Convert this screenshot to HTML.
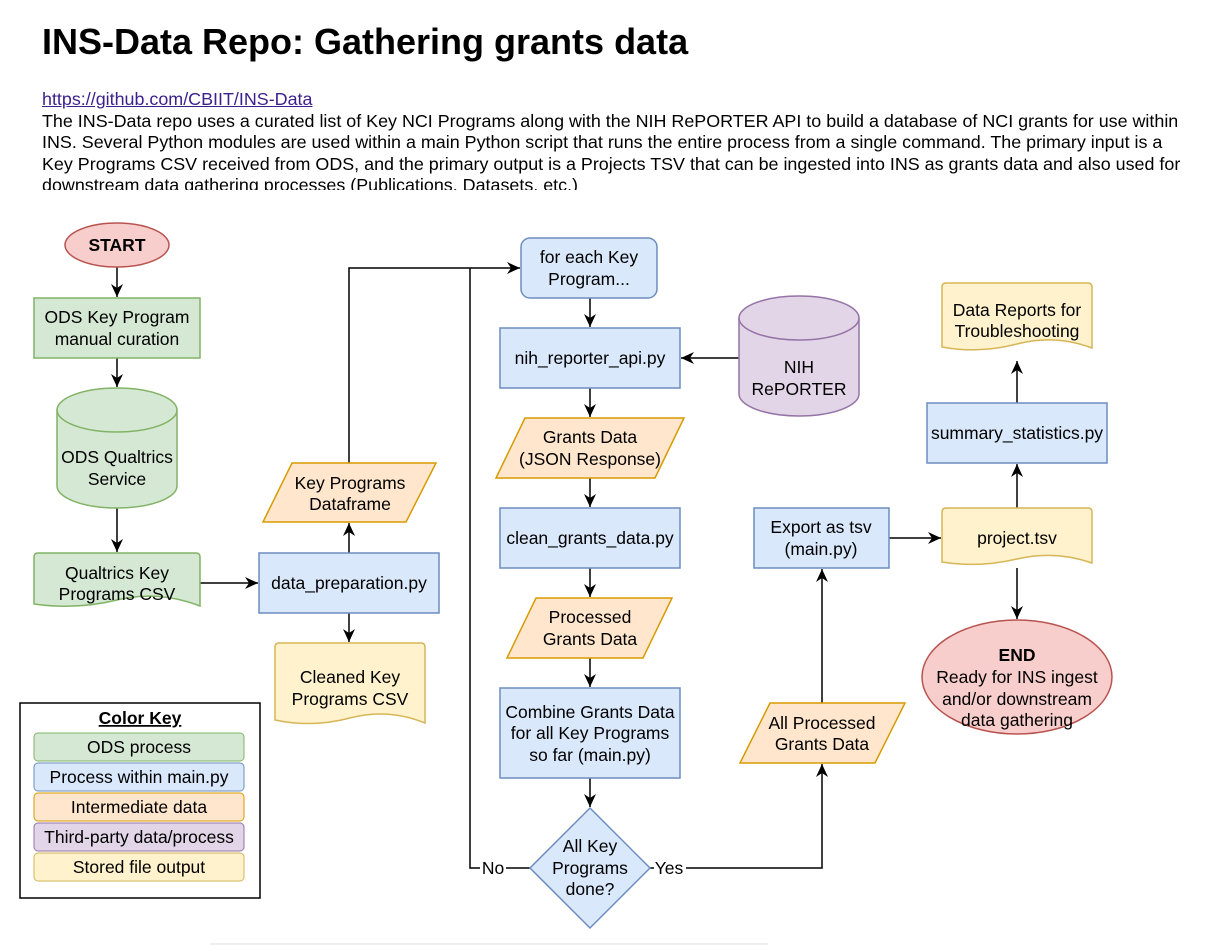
<!DOCTYPE html>
<html><head><meta charset="utf-8"><style>
body{margin:0;background:#fff;width:1222px;height:945px;overflow:hidden;font-family:"Liberation Sans",Arial,sans-serif}
h1{position:absolute;left:42px;top:21px;margin:0;font-size:36px;font-weight:bold}
#desc{position:absolute;left:42px;top:89px;width:1152px;height:101px;overflow:hidden;font-size:17.9px;line-height:21.6px;color:#000}
#desc a{color:#3b1f8c;text-decoration:underline}
svg{position:absolute;left:0;top:0}
text{font-family:"Liberation Sans",Arial,sans-serif;font-size:17.5px;text-anchor:middle}
</style></head><body>
<h1>INS-Data Repo: Gathering grants data</h1>
<div id="desc"><a>https://github.com/CBIIT/INS-Data</a><br>The INS-Data repo uses a curated list of Key NCI Programs along with the NIH RePORTER API to build a database of NCI grants for use within INS. Several Python modules are used within a main Python script that runs the entire process from a single command. The primary input is a Key Programs CSV received from ODS, and the primary output is a Projects TSV that can be ingested into INS as grants data and also used for downstream data gathering processes (Publications, Datasets, etc.)</div>
<svg width="1222" height="945" viewBox="0 0 1222 945">
<defs><marker id="a" markerWidth="14" markerHeight="14" refX="13" refY="6" orient="auto" markerUnits="userSpaceOnUse"><path d="M0,0 L13,6 L0,12 L4,6 Z" fill="#000"/></marker></defs>
<g stroke="#000" stroke-width="1.5" fill="none">
<path d="M117,267V297" marker-end="url(#a)"/>
<path d="M117,358V387" marker-end="url(#a)"/>
<path d="M117,508V552" marker-end="url(#a)"/>
<path d="M200,583H258" marker-end="url(#a)"/>
<path d="M349,553V523" marker-end="url(#a)"/>
<path d="M349,613V642" marker-end="url(#a)"/>
<path d="M349,463V268H520" marker-end="url(#a)"/>
<path d="M530,868H470V268"/>
<path d="M590,298V327" marker-end="url(#a)"/>
<path d="M739,358H681" marker-end="url(#a)"/>
<path d="M590,388V417" marker-end="url(#a)"/>
<path d="M590,478V507" marker-end="url(#a)"/>
<path d="M590,568V597" marker-end="url(#a)"/>
<path d="M590,658V687" marker-end="url(#a)"/>
<path d="M590,778V807" marker-end="url(#a)"/>
<path d="M650,868H822V764" marker-end="url(#a)"/>
<path d="M822,703V569" marker-end="url(#a)"/>
<path d="M889,538H941" marker-end="url(#a)"/>
<path d="M1017,508V464" marker-end="url(#a)"/>
<path d="M1017,403V361" marker-end="url(#a)"/>
<path d="M1017,568V619" marker-end="url(#a)"/>
</g>
<rect x="480" y="859" width="26" height="18" fill="#fff"/><text x="493" y="874">No</text>
<rect x="654" y="859" width="32" height="18" fill="#fff"/><text x="669" y="874">Yes</text>
<ellipse cx="117" cy="245" rx="52" ry="22" fill="#f8cecc" stroke="#b85450" stroke-width="1.5"/>
<text x="117" y="251" font-weight="bold">START</text>
<rect x="34" y="298" width="166" height="60" fill="#d5e8d4" stroke="#82b366" stroke-width="1.5"/>
<text x="117" y="323">ODS Key Program</text><text x="117" y="345">manual curation</text>
<path d="M57,410 A60,22 0 0 1 177,410 V486 A60,22 0 0 1 57,486 Z" fill="#d5e8d4" stroke="#82b366" stroke-width="1.5"/>
<path d="M57,410 A60,22 0 0 0 177,410" fill="none" stroke="#82b366" stroke-width="1.5"/>
<text x="117" y="463">ODS Qualtrics</text><text x="117" y="485">Service</text>
<path d="M38,553H196Q200,553 200,557V606Q158,590 117,600T34,604V557Q34,553 38,553Z" fill="#d5e8d4" stroke="#82b366" stroke-width="1.5"/>
<text x="117" y="579">Qualtrics Key</text><text x="117" y="600">Programs CSV</text>
<rect x="259" y="553" width="180" height="60" fill="#dae8fc" stroke="#6c8ebf" stroke-width="1.5"/>
<text x="349" y="589">data_preparation.py</text>
<path d="M263,522L292,463H436L406,522Z" fill="#ffe6cc" stroke="#d79b00" stroke-width="1.5"/>
<text x="350" y="489">Key Programs</text><text x="350" y="510">Dataframe</text>
<path d="M279,643H421Q425,643 425,647V723Q388,708 350,718T275,720V647Q275,643 279,643Z" fill="#fff2cc" stroke="#d6b656" stroke-width="1.5"/>
<text x="350" y="683">Cleaned Key</text><text x="350" y="705">Programs CSV</text>
<rect x="521" y="238" width="136" height="60" rx="9" fill="#dae8fc" stroke="#6c8ebf" stroke-width="1.5"/>
<text x="589" y="263">for each Key</text><text x="589" y="285">Program...</text>
<rect x="500" y="328" width="180" height="60" fill="#dae8fc" stroke="#6c8ebf" stroke-width="1.5"/>
<text x="590" y="364">nih_reporter_api.py</text>
<path d="M739,318 A60,22 0 0 1 859,318 V394 A60,22 0 0 1 739,394 Z" fill="#e1d5e7" stroke="#9673a6" stroke-width="1.5"/>
<path d="M739,318 A60,22 0 0 0 859,318" fill="none" stroke="#9673a6" stroke-width="1.5"/>
<text x="799" y="373">NIH</text><text x="799" y="395">RePORTER</text>
<path d="M496,478L525,418H684L655,478Z" fill="#ffe6cc" stroke="#d79b00" stroke-width="1.5"/>
<text x="590" y="443">Grants Data</text><text x="590" y="465">(JSON Response)</text>
<rect x="500" y="508" width="180" height="60" fill="#dae8fc" stroke="#6c8ebf" stroke-width="1.5"/>
<text x="590" y="544">clean_grants_data.py</text>
<path d="M507,658L536,598H672L643,658Z" fill="#ffe6cc" stroke="#d79b00" stroke-width="1.5"/>
<text x="590" y="623">Processed</text><text x="590" y="645">Grants Data</text>
<rect x="500" y="688" width="180" height="90" fill="#dae8fc" stroke="#6c8ebf" stroke-width="1.5"/>
<text x="590" y="718">Combine Grants Data</text><text x="590" y="739">for all Key Programs</text><text x="590" y="761">so far (main.py)</text>
<path d="M590,808L650,868L590,928L530,868Z" fill="#dae8fc" stroke="#6c8ebf" stroke-width="1.5"/>
<text x="590" y="852">All Key</text><text x="590" y="874">Programs</text><text x="590" y="895">done?</text>
<path d="M740,763L770,703H905L875,763Z" fill="#ffe6cc" stroke="#d79b00" stroke-width="1.5"/>
<text x="822" y="729">All Processed</text><text x="822" y="750">Grants Data</text>
<rect x="754" y="508" width="135" height="60" fill="#dae8fc" stroke="#6c8ebf" stroke-width="1.5"/>
<text x="821" y="533">Export as tsv</text><text x="821" y="555">(main.py)</text>
<path d="M946,508H1088Q1092,508 1092,512V563Q1055,550 1017,559T942,562V512Q942,508 946,508Z" fill="#fff2cc" stroke="#d6b656" stroke-width="1.5"/>
<text x="1017" y="544">project.tsv</text>
<rect x="927" y="403" width="180" height="60" fill="#dae8fc" stroke="#6c8ebf" stroke-width="1.5"/>
<text x="1017" y="439">summary_statistics.py</text>
<path d="M946,283H1088Q1092,283 1092,287V348Q1055,334 1017,344T942,347V287Q942,283 946,283Z" fill="#fff2cc" stroke="#d6b656" stroke-width="1.5"/>
<text x="1017" y="316">Data Reports for</text><text x="1017" y="337">Troubleshooting</text>
<ellipse cx="1017" cy="677" rx="95" ry="57" fill="#f8cecc" stroke="#b85450" stroke-width="1.5"/>
<text x="1017" y="661" font-weight="bold">END</text><text x="1017" y="683">Ready for INS ingest</text><text x="1017" y="705">and/or downstream</text><text x="1017" y="726">data gathering</text>
<rect x="20" y="703" width="240" height="195" fill="#fff" stroke="#000" stroke-width="1.5"/>
<text x="140" y="724" font-weight="bold" text-decoration="underline">Color Key</text>
<rect x="34" y="733" width="210" height="28" rx="4" fill="#d5e8d4" stroke="#82b366"/><text x="139" y="753">ODS process</text>
<rect x="34" y="763" width="210" height="28" rx="4" fill="#dae8fc" stroke="#6c8ebf"/><text x="139" y="783">Process within main.py</text>
<rect x="34" y="793" width="210" height="28" rx="4" fill="#ffe6cc" stroke="#d79b00"/><text x="139" y="813">Intermediate data</text>
<rect x="34" y="823" width="210" height="28" rx="4" fill="#e1d5e7" stroke="#9673a6"/><text x="139" y="843">Third-party data/process</text>
<rect x="34" y="853" width="210" height="28" rx="4" fill="#fff2cc" stroke="#d6b656"/><text x="139" y="873">Stored file output</text>
<line x1="210" y1="944" x2="768" y2="944" stroke="#ddd" stroke-width="1"/>
</svg>
</body></html>
